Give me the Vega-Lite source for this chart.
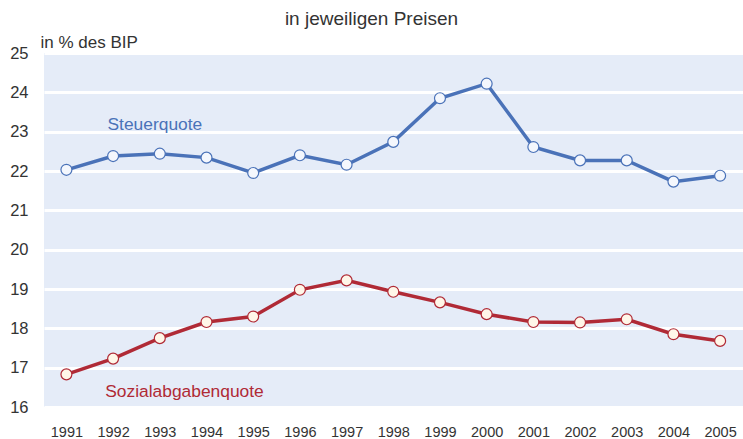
{
  "$schema": "https://vega.github.io/schema/vega-lite/v6.json",
  "width": 699,
  "height": 354,
  "autosize": {"type": "none"},
  "padding": {"left": 44, "top": 53, "right": 0, "bottom": 32},
  "background": "white",
  "config": {
    "font": "Liberation Sans",
    "view": {"fill": "#e5ecf8", "stroke": null}
  },
  "title": {
    "text": "in jeweiligen Preisen",
    "fontSize": 19,
    "fontWeight": "normal",
    "color": "#333333",
    "anchor": "middle",
    "dx": -22,
    "dy": 0
  },
  "datasets": {
    "series": [
      {"year": 1991, "value": 22.03, "series": "Steuerquote"},
      {"year": 1992, "value": 22.38, "series": "Steuerquote"},
      {"year": 1993, "value": 22.44, "series": "Steuerquote"},
      {"year": 1994, "value": 22.34, "series": "Steuerquote"},
      {"year": 1995, "value": 21.95, "series": "Steuerquote"},
      {"year": 1996, "value": 22.40, "series": "Steuerquote"},
      {"year": 1997, "value": 22.16, "series": "Steuerquote"},
      {"year": 1998, "value": 22.74, "series": "Steuerquote"},
      {"year": 1999, "value": 23.85, "series": "Steuerquote"},
      {"year": 2000, "value": 24.22, "series": "Steuerquote"},
      {"year": 2001, "value": 22.61, "series": "Steuerquote"},
      {"year": 2002, "value": 22.27, "series": "Steuerquote"},
      {"year": 2003, "value": 22.27, "series": "Steuerquote"},
      {"year": 2004, "value": 21.73, "series": "Steuerquote"},
      {"year": 2005, "value": 21.88, "series": "Steuerquote"},
      {"year": 1991, "value": 16.83, "series": "Sozialabgabenquote"},
      {"year": 1992, "value": 17.23, "series": "Sozialabgabenquote"},
      {"year": 1993, "value": 17.75, "series": "Sozialabgabenquote"},
      {"year": 1994, "value": 18.16, "series": "Sozialabgabenquote"},
      {"year": 1995, "value": 18.30, "series": "Sozialabgabenquote"},
      {"year": 1996, "value": 18.98, "series": "Sozialabgabenquote"},
      {"year": 1997, "value": 19.22, "series": "Sozialabgabenquote"},
      {"year": 1998, "value": 18.93, "series": "Sozialabgabenquote"},
      {"year": 1999, "value": 18.66, "series": "Sozialabgabenquote"},
      {"year": 2000, "value": 18.36, "series": "Sozialabgabenquote"},
      {"year": 2001, "value": 18.16, "series": "Sozialabgabenquote"},
      {"year": 2002, "value": 18.15, "series": "Sozialabgabenquote"},
      {"year": 2003, "value": 18.23, "series": "Sozialabgabenquote"},
      {"year": 2004, "value": 17.85, "series": "Sozialabgabenquote"},
      {"year": 2005, "value": 17.68, "series": "Sozialabgabenquote"}
    ],
    "labels": [
      {"year": 1991.88, "value": 23.03, "series": "Steuerquote"},
      {"year": 1991.83, "value": 16.26, "series": "Sozialabgabenquote"}
    ]
  },
  "encoding": {
    "x": {
      "field": "year",
      "type": "quantitative",
      "scale": {"domain": [1990.52, 2005.49], "nice": false, "zero": false},
      "axis": {
        "title": null,
        "values": [1991, 1992, 1993, 1994, 1995, 1996, 1997, 1998, 1999, 2000, 2001, 2002, 2003, 2004, 2005],
        "format": "d",
        "grid": false,
        "domain": false,
        "ticks": false,
        "labelFontSize": 14.5,
        "labelColor": "#333333",
        "labelPadding": 18,
        "labelFlush": false,
        "labelOverlap": false
      }
    },
    "y": {
      "field": "value",
      "type": "quantitative",
      "scale": {"domain": [16, 25], "nice": false, "zero": false},
      "axis": {
        "title": "in % des BIP",
        "titleAngle": 0,
        "titleAlign": "left",
        "titleBaseline": "alphabetic",
        "titleX": -4,
        "titleY": -6,
        "titleFontSize": 17,
        "titleFontWeight": "normal",
        "titleColor": "#333333",
        "values": [16, 17, 18, 19, 20, 21, 22, 23, 24, 25],
        "grid": true,
        "gridColor": "white",
        "gridWidth": 3,
        "domain": false,
        "ticks": false,
        "labelFontSize": 16.5,
        "labelColor": "#333333",
        "labelPadding": 16,
        "labelFlush": false,
        "labelOverlap": false
      }
    }
  },
  "layer": [
    {
      "data": {"name": "series"},
      "mark": {"type": "line", "strokeWidth": 3.5},
      "encoding": {
        "color": {
          "field": "series",
          "type": "nominal",
          "scale": {"domain": ["Steuerquote", "Sozialabgabenquote"], "range": ["#4a72b8", "#b02a36"]},
          "legend": null
        }
      }
    },
    {
      "data": {"name": "series"},
      "mark": {"type": "point", "filled": true, "size": 120, "strokeWidth": 1.2, "opacity": 1},
      "encoding": {
        "fill": {
          "field": "series",
          "type": "nominal",
          "scale": {"domain": ["Steuerquote", "Sozialabgabenquote"], "range": ["#f4f7fd", "#fff6e8"]},
          "legend": null
        },
        "stroke": {
          "field": "series",
          "type": "nominal",
          "scale": {"domain": ["Steuerquote", "Sozialabgabenquote"], "range": ["#4a72b8", "#b02a36"]},
          "legend": null
        }
      }
    },
    {
      "data": {"name": "labels"},
      "mark": {"type": "text", "align": "left", "baseline": "alphabetic", "fontSize": 17.4},
      "encoding": {
        "text": {"field": "series", "type": "nominal"},
        "color": {
          "field": "series",
          "type": "nominal",
          "scale": {"domain": ["Steuerquote", "Sozialabgabenquote"], "range": ["#4f7ac2", "#b3303c"]},
          "legend": null
        }
      }
    }
  ]
}
